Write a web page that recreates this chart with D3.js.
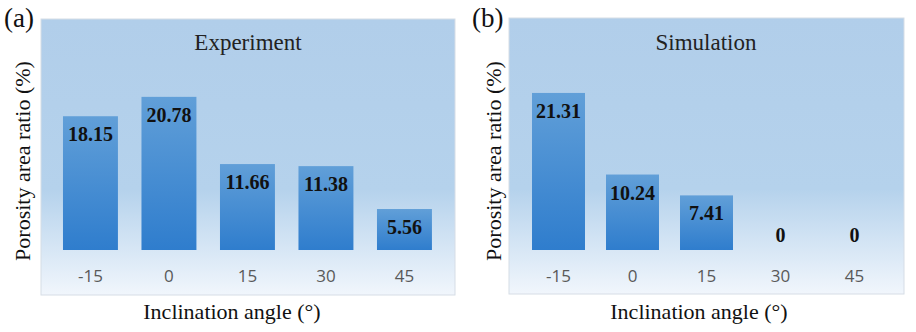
<!DOCTYPE html>
<html>
<head>
<meta charset="utf-8">
<script src="https://cdn.jsdelivr.net/npm/d3@7"></script>
<style>
html,body{margin:0;padding:0;background:#fff;}
svg{display:block;}
</style>
</head>
<body>
<svg id="chart" width="916" height="332"></svg>
<script>
const categories = ["-15", "0", "15", "30", "45"];
const experimentValues = [18.15, 20.78, 11.66, 11.38, 5.56];
const simulationValues = [21.31, 10.24, 7.41, 0, 0];
const panelTitles = ["Experiment", "Simulation"];
const panelLetters = ["(a)", "(b)"];
const yAxisTitle = "Porosity area ratio (%)";
const xAxisTitle = "Inclination angle (°)";

const svg = d3.select("#chart");
const defs = svg.append("defs");
const serif = "'Liberation Serif','Times New Roman',serif";

const bg = defs.append("linearGradient").attr("id","bgGrad").attr("x1",0).attr("y1",0).attr("x2",0).attr("y2",1);
bg.append("stop").attr("offset","0").attr("stop-color","#b1ceea");
bg.append("stop").attr("offset","0.62").attr("stop-color","#b5d2ec");
bg.append("stop").attr("offset","1").attr("stop-color","#f1f6fc");

const barG = defs.append("linearGradient").attr("id","barGrad").attr("x1",0).attr("y1",0).attr("x2",0).attr("y2",1);
barG.append("stop").attr("offset","0").attr("stop-color","#619fd8");
barG.append("stop").attr("offset","1").attr("stop-color","#2f7dcd");

const panels = [
  {values: experimentValues, box:[41,19,455,295], xr:[51.2,443.7], pin:0.3, pout:0.15,
   letter:[4,27], ylab:22, xlabX:232, titleX:248},
  {values: simulationValues, box:[509,18,904,294], xr:[521.5,891.5], pin:0.284, pout:0.142,
   letter:[472,27], ylab:493, xlabX:699, titleX:706}
];

panels.forEach((p,i)=>{
  const g = svg.append("g");
  const [bx0,by0,bx1,by1] = p.box;
  g.append("rect").attr("x",bx0).attr("y",by0).attr("width",bx1-bx0).attr("height",by1-by0)
    .attr("fill","url(#bgGrad)").attr("stroke","#d6dde6").attr("stroke-width",1);

  const x = d3.scaleBand().domain(categories).range(p.xr).paddingInner(p.pin).paddingOuter(p.pout);
  const y = d3.scaleLinear().domain([0,25]).range([250,65.75]);

  g.selectAll("rect.bar").data(p.values).join("rect").attr("class","bar")
    .attr("x",(d,j)=>x(categories[j])).attr("width",x.bandwidth())
    .attr("y",d=>y(d)).attr("height",d=>y(0)-y(d))
    .attr("fill","url(#barGrad)");

  g.selectAll("text.val").data(p.values).join("text").attr("class","val")
    .attr("x",(d,j)=>x(categories[j])+x.bandwidth()/2)
    .attr("y",d=> d>0 ? y(d)+25 : y(0)-8)
    .attr("text-anchor","middle")
    .attr("font-family",serif)
    .attr("font-weight","bold").attr("font-size",20).attr("fill","#111")
    .text(d=>d.toFixed(d===0?0:2));

  const ax = d3.axisBottom(x).tickSize(0).tickPadding(0);
  const axg = g.append("g").attr("transform","translate(0,270)").call(ax);
  axg.select(".domain").remove();
  axg.selectAll("text").attr("font-family","'Open Sans','Noto Sans',sans-serif")
    .attr("font-size",17).attr("fill","#595959").attr("dy","0.71em");

  g.append("text").attr("x",p.titleX).attr("y",50).attr("text-anchor","middle")
    .attr("font-family",serif).attr("font-size",23).attr("fill","#222")
    .text(panelTitles[i]);

  g.append("text").attr("x",p.letter[0]).attr("y",p.letter[1])
    .attr("font-family",serif).attr("font-size",27).attr("fill","#111")
    .text(panelLetters[i]);

  g.append("text").attr("transform",`translate(${p.ylab+8},161) rotate(-90)`).attr("text-anchor","middle")
    .attr("font-family",serif).attr("font-size",22).attr("fill","#111")
    .text(yAxisTitle);

  g.append("text").attr("x",p.xlabX).attr("y",319).attr("text-anchor","middle")
    .attr("font-family",serif).attr("font-size",22).attr("fill","#111")
    .text(xAxisTitle);
});
</script>
</body>
</html>
